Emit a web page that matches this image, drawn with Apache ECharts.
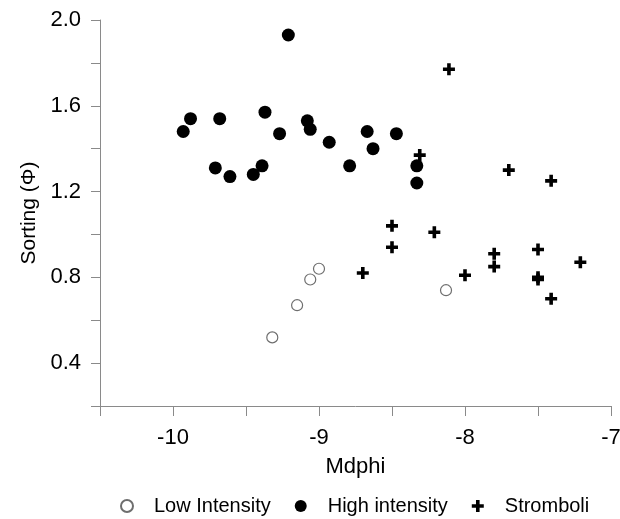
<!DOCTYPE html>
<html>
<head>
<meta charset="utf-8" />
<script type="text/javascript" src="https://cdn.jsdelivr.net/npm/echarts@6/dist/echarts.min.js"></script>
<title>Sorting vs Mdphi</title>
<style>
  html, body { margin: 0; padding: 0; background: #fff; }
  #main { width: 620px; height: 519px; }
</style>
</head>
<body>
<div id="main"></div>
<script type="text/javascript">
// data: [Mdphi, Sorting]
var lowIntensity = [
  [-9.32, 0.52], [-9.15, 0.67], [-9.06, 0.79], [-9.00, 0.84], [-8.13, 0.74]
];
var highIntensity = [
  [-9.93, 1.48], [-9.88, 1.54], [-9.68, 1.54], [-9.71, 1.31], [-9.61, 1.27],
  [-9.45, 1.28], [-9.39, 1.32], [-9.37, 1.57], [-9.27, 1.47], [-9.21, 1.93],
  [-9.08, 1.53], [-9.06, 1.49], [-8.93, 1.43], [-8.79, 1.32], [-8.67, 1.48],
  [-8.63, 1.40], [-8.47, 1.47], [-8.33, 1.32], [-8.33, 1.24]
];
var stromboli = [
  [-8.11, 1.77], [-8.31, 1.37], [-7.70, 1.30], [-7.41, 1.25], [-8.50, 1.04],
  [-8.21, 1.01], [-8.50, 0.94], [-8.70, 0.82], [-7.80, 0.91], [-7.80, 0.85],
  [-8.00, 0.81], [-7.50, 0.93], [-7.50, 0.80], [-7.50, 0.79], [-7.21, 0.87],
  [-7.41, 0.70]
];
var seriesNames = ['Low Intensity', 'High intensity', 'Stromboli'];

var plusPath = 'path://M3.5,0H6.5V3.5H10V6.5H6.5V10H3.5V6.5H0V3.5H3.5Z';
var axisGrey = '#8a8a8a';
var font = 'Liberation Sans, Arial, sans-serif';

var myChart = echarts.init(document.getElementById('main'));

var option = {
  backgroundColor: '#fff',
  animation: false,
  textStyle: { fontFamily: font },
  grid: {
    left: 100, right: 9, top: 20, bottom: 113,
    containLabel: false,
    outerBoundsMode: 'none'
  },
  legend: {
    left: 115,
    top: 491,
    itemWidth: 12,
    itemHeight: 12,
    itemGap: 24,
    data: seriesNames,
    textStyle: { fontSize: 20, color: '#000', padding: [0, 0, 0, 16], fontFamily: font }
  },
  xAxis: {
    type: 'value',
    min: -10.5, max: -7, interval: 0.5,
    name: 'Mdphi',
    nameLocation: 'middle',
    nameGap: 50,
    nameTextStyle: { fontSize: 22, color: '#000', fontFamily: font },
    splitLine: { show: false },
    axisLine: { show: true, onZero: false, lineStyle: { color: axisGrey, width: 1 } },
    axisTick: { show: true, length: 10, lineStyle: { color: axisGrey } },
    axisLabel: {
      margin: 21, fontSize: 22, color: '#000', fontFamily: font,
      showMinLabel: true, showMaxLabel: true,
      formatter: function (v) { return Number.isInteger(v) ? String(v) : ''; }
    }
  },
  yAxis: {
    type: 'value',
    min: 0.2, max: 2.0, interval: 0.2,
    name: 'Sorting (Φ)',
    nameLocation: 'middle',
    nameGap: 58,
    nameTextStyle: { fontSize: 21, color: '#000', fontFamily: font },
    splitLine: { show: false },
    axisLine: { show: true, onZero: false, lineStyle: { color: axisGrey, width: 1 } },
    axisTick: { show: true, length: 9, lineStyle: { color: axisGrey } },
    axisLabel: {
      margin: 19, fontSize: 22, color: '#000', fontFamily: font,
      showMinLabel: true, showMaxLabel: true,
      formatter: function (v) {
        return Math.round(v * 10) % 4 === 0 ? v.toFixed(1) : '';
      }
    }
  },
  series: [
    {
      name: seriesNames[0],
      type: 'scatter',
      data: lowIntensity,
      symbol: 'circle',
      symbolSize: 11,
      itemStyle: { color: '#fff', borderColor: '#6e6e6e', borderWidth: 1.2, opacity: 1 },
      z: 3
    },
    {
      name: seriesNames[1],
      type: 'scatter',
      data: highIntensity,
      symbol: 'circle',
      symbolSize: 13,
      itemStyle: { color: '#000', opacity: 1 },
      z: 2
    },
    {
      name: seriesNames[2],
      type: 'scatter',
      data: stromboli,
      symbol: plusPath,
      symbolSize: 12,
      itemStyle: { color: '#000', opacity: 1 },
      z: 2
    }
  ]
};

myChart.setOption(option);
</script>
</body>
</html>
